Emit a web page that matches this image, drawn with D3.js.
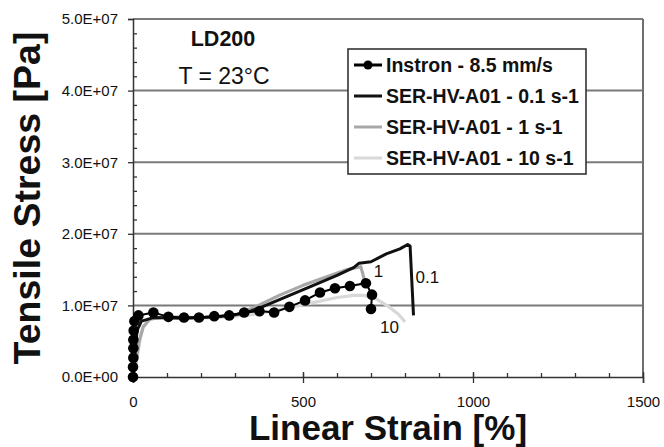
<!DOCTYPE html>
<html>
<head>
<meta charset="utf-8">
<script src="https://cdn.jsdelivr.net/npm/d3@7/dist/d3.min.js"></script>
<style>
  html, body { margin: 0; padding: 0; background: #fff; }
  svg { display: block; font-family: "Liberation Sans", Arial, sans-serif; }
</style>
</head>
<body>
<svg id="chart" width="664" height="447"></svg>
<script>
// Tensile tests on LD200 at 23 °C: strain [%] vs stress [Pa]
const instron = [
  [0, 0], [0, 1.4e6], [1, 2.7e6], [1, 4.0e6], [1, 5.2e6], [2, 6.5e6], [4, 7.8e6],
  [16, 8.6e6], [60, 9.0e6], [104, 8.4e6], [150, 8.3e6], [194, 8.3e6], [239, 8.5e6],
  [283, 8.6e6], [327, 9.0e6], [372, 9.2e6], [415, 9.0e6], [460, 9.8e6], [506, 10.7e6],
  [550, 11.8e6], [594, 12.4e6], [638, 12.7e6], [685, 13.1e6], [703, 11.5e6], [700, 9.5e6]
];
const ser01 = [
  [0, 0], [5, 3.0e6], [12, 6.5e6], [25, 7.8e6], [60, 8.3e6], [150, 8.2e6], [250, 8.4e6],
  [330, 8.9e6], [380, 9.8e6], [450, 11.2e6], [520, 12.6e6], [600, 14.2e6], [650, 15.3e6],
  [665, 15.9e6], [700, 16.1e6], [745, 17.2e6], [785, 17.9e6], [808, 18.5e6], [815, 18.3e6],
  [821, 12.5e6], [825, 8.6e6]
];
const ser1 = [
  [0, 0], [8, 2.0e6], [18, 5.0e6], [30, 7.0e6], [50, 8.1e6], [100, 8.4e6], [200, 8.3e6],
  [300, 8.6e6], [360, 9.8e6], [430, 11.4e6], [500, 12.8e6], [570, 14.0e6], [630, 15.0e6],
  [670, 15.4e6], [676, 14.4e6], [682, 13.2e6]
];
const ser10 = [
  [0, 0], [8, 1.5e6], [15, 3.5e6], [22, 5.5e6], [30, 7.0e6], [45, 7.9e6], [70, 8.3e6],
  [150, 8.2e6], [250, 8.3e6], [350, 8.7e6], [420, 9.3e6], [480, 9.9e6], [540, 10.5e6],
  [600, 11.1e6], [650, 11.4e6], [680, 11.4e6], [715, 10.9e6], [750, 9.9e6], [780, 8.8e6],
  [800, 7.7e6]
];
const seriesNames = ["Instron - 8.5 mm/s", "SER-HV-A01 - 0.1 s-1", "SER-HV-A01 - 1 s-1", "SER-HV-A01 - 10 s-1"];
const rateLabels = ["0.1", "1", "10"];
const xTicks = [0, 500, 1000, 1500];
const yTicks = [0, 1e7, 2e7, 3e7, 4e7, 5e7];
const xMinorTicks = d3.range(0, 1501, 100);
const yMinorTicks = d3.range(0, 5.01e7, 2e6);

const colors = { instron: "#000", s01: "#111", s1: "#a8a8a8", s10: "#d8d8d8" };
const FONT = '"Liberation Sans", Arial, sans-serif';

const svg = d3.select("#chart");
const m = { left: 133, right: 643, top: 19, bottom: 377 };

const x = d3.scaleLinear().domain([0, 1500]).range([m.left, m.right]);
const y = d3.scaleLinear().domain([0, 5e7]).range([m.bottom, m.top]);

// scientific label like 3.0E+07
function sci(v) {
  if (v === 0) return "0.0E+00";
  const e = Math.floor(Math.log10(Math.abs(v)));
  const mant = v / Math.pow(10, e);
  return mant.toFixed(1) + "E+" + String(e).padStart(2, "0");
}

// horizontal gridlines
svg.append("g").selectAll("line")
  .data(yTicks.filter(d => d > 0))
  .join("line")
  .attr("x1", m.left).attr("x2", m.right)
  .attr("y1", d => y(d)).attr("y2", d => y(d))
  .attr("stroke", "#7a7a7a").attr("stroke-width", 2);

// right frame edge
svg.append("line")
  .attr("x1", m.right).attr("x2", m.right)
  .attr("y1", m.top).attr("y2", m.bottom)
  .attr("stroke", "#6f6f6f").attr("stroke-width", 2);

// y axis: major ticks outward with labels, minor ticks inward
const yAxis = svg.append("g").attr("transform", `translate(${m.left},0)`)
  .call(d3.axisLeft(y).tickValues(yTicks).tickSize(5).tickPadding(10).tickFormat(sci));
const yMinor = svg.append("g").attr("transform", `translate(${m.left},0)`)
  .call(d3.axisRight(y).tickValues(yMinorTicks.filter(d => d % 1e7 !== 0)).tickSize(4).tickFormat(""));
yMinor.select(".domain").remove();

// x axis: major ticks cross the line, minor ticks point up
const xAxis = svg.append("g").attr("transform", `translate(0,${m.bottom})`)
  .call(d3.axisBottom(x).tickValues(xTicks).tickSize(6).tickPadding(13).tickFormat(d3.format("d")));
const xMinor = svg.append("g").attr("transform", `translate(0,${m.bottom})`)
  .call(d3.axisTop(x).tickValues(xMinorTicks).tickSize(4).tickFormat(""));
xMinor.select(".domain").remove();
svg.append("g").attr("transform", `translate(0,${m.bottom})`)
  .call(d3.axisTop(x).tickValues(xTicks.slice(1)).tickSize(5).tickFormat(""))
  .select(".domain").remove();

[yAxis, xAxis].forEach(g => {
  g.attr("font-size", null).attr("font-family", null);
  g.select(".domain").attr("stroke", "#333").attr("stroke-width", 1.5);
  g.selectAll("text").style("font-size", "15px").style("font-family", FONT).attr("fill", "#111");
});
svg.selectAll(".tick line").attr("stroke", "#333").attr("stroke-width", 1.3);

// axis titles
svg.append("text")
  .attr("x", (m.left + m.right) / 2).attr("y", 440)
  .attr("text-anchor", "middle").attr("font-size", 35).attr("font-weight", "bold")
  .attr("fill", "#111")
  .text("Linear Strain [%]");
svg.append("text")
  .attr("transform", `translate(40,${(m.top + m.bottom) / 2}) rotate(-90)`)
  .attr("text-anchor", "middle").attr("font-size", 37.5).attr("font-weight", "bold")
  .attr("fill", "#111")
  .text("Tensile Stress [Pa]");

// material / temperature notes
svg.append("text").attr("x", 223).attr("y", 46).attr("text-anchor", "middle")
  .attr("font-size", 21.5).attr("font-weight", "bold").attr("fill", "#111").text("LD200");
svg.append("text").attr("x", 224).attr("y", 84).attr("text-anchor", "middle")
  .attr("font-size", 23).attr("fill", "#111").text("T = 23°C");

// curves
const line = d3.line().x(d => x(d[0])).y(d => y(d[1]));
const plot = svg.append("g");
plot.append("path").datum(ser10).attr("d", line)
  .attr("fill", "none").attr("stroke", colors.s10).attr("stroke-width", 3.2).attr("stroke-linejoin", "round");
plot.append("path").datum(ser1).attr("d", line)
  .attr("fill", "none").attr("stroke", colors.s1).attr("stroke-width", 3.2).attr("stroke-linejoin", "round");
plot.append("path").datum(ser01).attr("d", line)
  .attr("fill", "none").attr("stroke", colors.s01).attr("stroke-width", 3).attr("stroke-linejoin", "round");
plot.append("path").datum(instron).attr("d", line)
  .attr("fill", "none").attr("stroke", colors.instron).attr("stroke-width", 2);
plot.append("g").selectAll("circle").data(instron).join("circle")
  .attr("cx", d => x(d[0])).attr("cy", d => y(d[1])).attr("r", 5.3).attr("fill", colors.instron);

// strain-rate labels next to curve ends
const endOf = s => s[s.length - 1];
const peakOf = s => s.reduce((a, b) => (b[1] > a[1] ? b : a));
const rateAnchors = [
  { text: rateLabels[0], px: x(endOf(ser01)[0]) + 2, py: y(14e6) + 6 },
  { text: rateLabels[1], px: x(peakOf(ser1)[0]) + 13, py: y(peakOf(ser1)[1]) + 10 },
  { text: rateLabels[2], px: x(endOf(ser10)[0]) - 25, py: y(endOf(ser10)[1]) + 11 }
];
svg.append("g").selectAll("text").data(rateAnchors).join("text")
  .attr("x", d => d.px).attr("y", d => d.py)
  .attr("font-size", 17).attr("fill", "#111").text(d => d.text);

// legend
const lg = svg.append("g").attr("transform", "translate(348,49)");
lg.append("rect").attr("width", 238).attr("height", 125)
  .attr("fill", "#fff").attr("stroke", "#333").attr("stroke-width", 1.6);
const legendColors = [colors.instron, colors.s01, colors.s1, colors.s10];
const rows = lg.selectAll("g.row").data(seriesNames).join("g")
  .attr("class", "row").attr("transform", (d, i) => `translate(0,${16 + i * 31})`);
rows.append("line").attr("x1", 6).attr("x2", 34).attr("y1", 0).attr("y2", 0)
  .attr("stroke", (d, i) => legendColors[i]).attr("stroke-width", 3);
rows.filter((d, i) => i === 0).append("circle").attr("cx", 20).attr("cy", 0).attr("r", 4.5).attr("fill", "#000");
rows.append("text").attr("x", 38).attr("y", 0).attr("dy", "0.36em")
  .attr("font-size", 19.5).attr("font-weight", "bold").attr("fill", "#111").text(d => d);
</script>
</body>
</html>
